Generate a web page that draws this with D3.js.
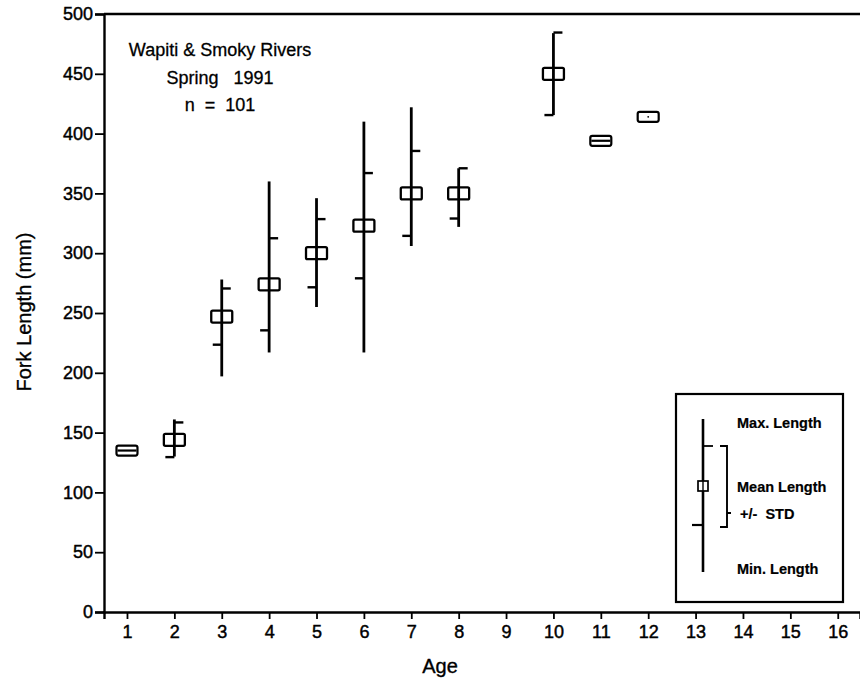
<!DOCTYPE html>
<html><head><meta charset="utf-8">
<script src="https://cdn.jsdelivr.net/npm/d3@7"></script>
<style>html,body{margin:0;padding:0;background:#fff;}svg{display:block;}</style>
</head><body>
<svg id="c" width="860" height="684"></svg>
<script>
// ---- data ----
const ages     = [1, 2, 3, 4, 5, 6, 7, 8, 10, 11, 12];
const meanLen  = [135, 144, 247, 274, 300, 323, 350, 350, 450, 394, 414];
const stdLen   = [0, 14.5, 23.5, 38.5, 28.5, 44, 35.5, 21, 34.5, 0, 0];
const maxLen   = [null, 161, 278, 360, 346, 410, 422, 371, 484, null, null];
const minLen   = [null, 130, 197, 217, 255, 217, 306, 322, 415.5, null, null];
const boxKind  = ["double","plain","plain","plain","plain","plain","plain","plain","plain","double","dot"];
const xTicks   = [1,2,3,4,5,6,7,8,9,10,11,12,13,14,15,16];
const yTicks   = [0,50,100,150,200,250,300,350,400,450,500];
const titleLines = ["Wapiti & Smoky Rivers", "Spring   1991", "n  =  101"];
const legendLabels = ["Max. Length", "Mean Length", "+/-  STD", "Min. Length"];

const svg = d3.select("#c");
const font = "'Liberation Sans', Arial, Helvetica, sans-serif";
const x = d3.scaleLinear().domain([0.515, 16.47]).range([104, 860]);
const y = d3.scaleLinear().domain([0, 500]).range([612, 14]);

function inkText(sel, size, w) {
  sel.attr("fill", "#000").attr("stroke", "#000").attr("stroke-width", w)
    .style("font-family", font).style("font-size", size + "px").style("white-space", "pre");
}

// axes
const gy = svg.append("g").attr("transform", "translate(104,0)")
  .call(d3.axisLeft(y).tickValues(yTicks).tickSize(9).tickPadding(2));
const gx = svg.append("g").attr("transform", "translate(0,612)")
  .call(d3.axisBottom(x).tickValues(xTicks).tickSize(7).tickPadding(6));
[gx, gy].forEach(g => {
  g.select(".domain").attr("stroke", "#000").attr("stroke-width", 2.4);
  g.selectAll(".tick line").attr("stroke", "#000").attr("stroke-width", 1.8);
  inkText(g.selectAll("text"), 18, 0.45);
});
// top frame line
svg.append("line").attr("x1", 104).attr("x2", 860).attr("y1", y(500)).attr("y2", y(500))
  .attr("stroke", "#000").attr("stroke-width", 2.4);

// axis titles
inkText(svg.append("text").attr("x", 440).attr("y", 673).attr("text-anchor", "middle").text("Age"), 20, 0.35);
inkText(svg.append("text").attr("transform", "translate(31,312) rotate(-90)").attr("text-anchor", "middle")
  .text("Fork Length (mm)"), 20, 0.35);

// title block
inkText(svg.append("g").selectAll("text").data(titleLines).join("text")
  .attr("x", 220).attr("y", (d, i) => 56 + i * 27.5).attr("text-anchor", "middle").text(d => d), 18, 0.3);

// data
const data = ages.map((a, i) => ({age: a, mean: meanLen[i], sd: stdLen[i], max: maxLen[i], min: minLen[i], kind: boxKind[i]}));
const g = svg.append("g");
const bw = 21, bh = 12, tl = 9;
data.forEach(d => {
  const cx = x(d.age);
  if (d.max !== null) {
    g.append("rect").attr("x", cx - bw/2).attr("y", y(d.mean) - bh/2).attr("width", bw).attr("height", bh)
      .attr("fill", "#fff").attr("stroke", "#000").attr("stroke-width", 2.3).attr("rx", 1.5);
    g.append("line").attr("x1", cx).attr("x2", cx).attr("y1", y(d.max)).attr("y2", y(d.min))
      .attr("stroke", "#000").attr("stroke-width", 2.8);
    // +std tick (right), -std tick (left)
    g.append("line").attr("x1", cx).attr("x2", cx + tl).attr("y1", y(d.mean + d.sd)).attr("y2", y(d.mean + d.sd))
      .attr("stroke", "#000").attr("stroke-width", 2.4);
    g.append("line").attr("x1", cx - tl).attr("x2", cx).attr("y1", y(d.mean - d.sd)).attr("y2", y(d.mean - d.sd))
      .attr("stroke", "#000").attr("stroke-width", 2.4);
  } else {
    g.append("rect").attr("x", cx - bw/2).attr("y", y(d.mean) - bh/2 + 1).attr("width", bw).attr("height", bh - 2)
      .attr("fill", "#fff").attr("stroke", "#000").attr("stroke-width", 2.2).attr("rx", 2);
    if (d.kind === "double") {
      g.append("line").attr("x1", cx - bw/2 + 1).attr("x2", cx + bw/2 - 1).attr("y1", y(d.mean)).attr("y2", y(d.mean))
        .attr("stroke", "#000").attr("stroke-width", 2.2);
    } else if (d.kind === "dot") {
      g.append("circle").attr("cx", cx).attr("cy", y(d.mean)).attr("r", 0.9).attr("fill", "#000");
    }
  }
});

// legend
const L = svg.append("g");
L.append("rect").attr("x", 676).attr("y", 394).attr("width", 167).attr("height", 208)
  .attr("fill", "#fff").attr("stroke", "#000").attr("stroke-width", 2.2);
L.append("line").attr("x1", 703).attr("x2", 703).attr("y1", 419).attr("y2", 572).attr("stroke", "#000").attr("stroke-width", 2.6);
L.append("line").attr("x1", 703).attr("x2", 713).attr("y1", 446).attr("y2", 446).attr("stroke", "#000").attr("stroke-width", 1.8);
L.append("line").attr("x1", 692).attr("x2", 703).attr("y1", 525).attr("y2", 525).attr("stroke", "#000").attr("stroke-width", 2.2);
L.append("rect").attr("x", 698).attr("y", 481).attr("width", 10).attr("height", 10)
  .attr("fill", "#fff").attr("stroke", "#000").attr("stroke-width", 1.7);
L.append("line").attr("x1", 703).attr("x2", 703).attr("y1", 481).attr("y2", 491).attr("stroke", "#000").attr("stroke-width", 1.4);
L.append("path").attr("d", "M720,446 H727 V527 H720 M727,513 H731").attr("fill", "none").attr("stroke", "#000").attr("stroke-width", 1.9);
inkText(L.selectAll("text.lg").data(legendLabels).join("text").attr("class", "lg")
  .attr("x", (d, i) => i === 2 ? 740 : 737)
  .attr("y", (d, i) => [428, 492, 519, 574][i])
  .style("font-weight", "bold").text(d => d), 14.5, 0.2);
</script>
</body></html>
